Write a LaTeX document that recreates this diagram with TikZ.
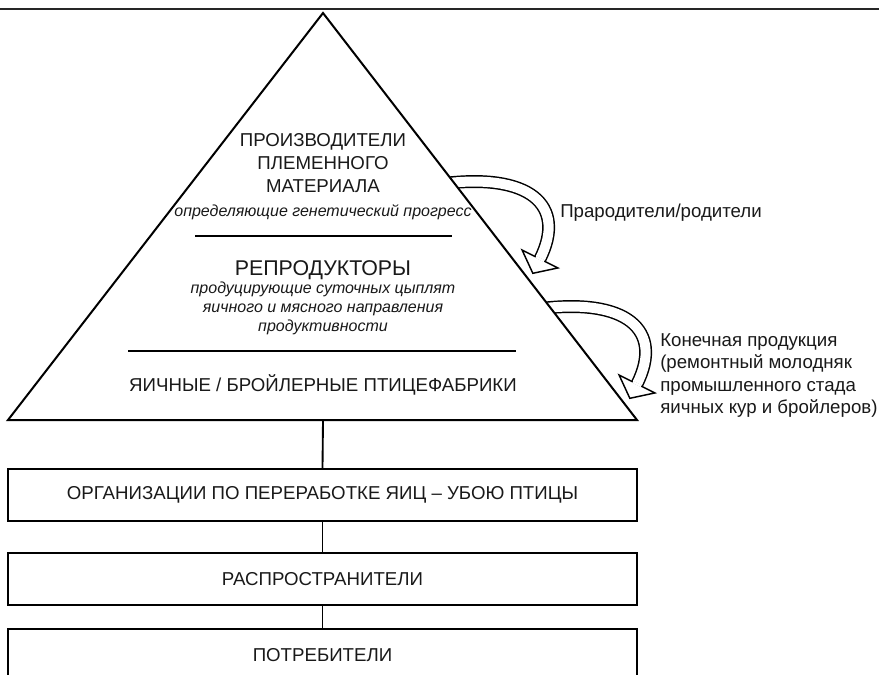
\documentclass[tikz,border=0pt]{standalone}
\usepackage{fontspec}
\setmainfont{Liberation Sans}
\usetikzlibrary{calc}
\tikzset{
  tri/.style={line width=1.5pt, line join=miter},
  sepline/.style={line width=1.8pt},
  topline/.style={line width=2pt, black!85},
  boxnode/.style={draw, line width=1.4pt, minimum width=471.75pt, minimum height=39pt, inner sep=0pt, text=black!90, font=\fontsize{14}{17}\selectfont},
  conn1/.style={line width=1.4pt},
  conn2/.style={line width=1pt},
  title/.style={align=center, text=black!90, inner sep=0pt, font=\fontsize{14}{17.25}\selectfont},
  bigtitle/.style={align=center, text=black!90, inner sep=0pt, font=\fontsize{16}{19}\selectfont},
  desc/.style={align=center, text=black!90, inner sep=0pt, font=\fontsize{12}{14.25}\selectfont\itshape},
  sidetext/.style={align=left, anchor=west, text=black!90, inner sep=0pt, font=\fontsize{14}{16.7}\selectfont},
  shaft/.style={line width=1.1pt, double=white, double distance=7.5pt},
  headst/.style={draw, fill=white, line width=1.1pt, line join=miter},
}
\begin{document}
\begin{tikzpicture}[x=0.75pt,y=-0.75pt]
\useasboundingbox (0,0) rectangle (879,675);
\clip (0,0) rectangle (879,675);
\fill[white] (0,0) rectangle (879,675);

% top rule
\coordinate (tl) at (0,9);
\coordinate (tr) at (879,9);
\draw[topline] (tl) -- (tr);

% pyramid corners
\coordinate (apex) at (323,13);
\coordinate (bl) at (8,420);
\coordinate (br) at (637,420);
\coordinate (pyrbase) at (323,420);

% curved hollow arrows (shafts clipped at the pyramid edge)
\coordinate (a1s) at (440,184);
\coordinate (a1c1) at (530,172);
\coordinate (a1c2) at (567,205);
\coordinate (a1e) at (540,259);
\coordinate (a2s) at (537,309);
\coordinate (a2c1) at (627,297);
\coordinate (a2c2) at (664,330);
\coordinate (a2e) at (637,384);
\begin{scope}
  \clip (apex) -- (br) -- (879,675) -- (879,0) -- (323,0) -- cycle;
  \draw[shaft] (a1s) .. controls (a1c1) and (a1c2) .. (a1e);
  \draw[shaft] (a2s) .. controls (a2c1) and (a2c2) .. (a2e);
\end{scope}
\draw[headst] ($(a1e)!15pt!90:(a1c2)$) -- ($(a1e)!-12pt!(a1c2)$) -- ($(a1e)!15pt!-90:(a1c2)$) -- cycle;
\draw[white, line width=1.6pt] ($(a1e)!3.5pt!90:(a1c2)$) -- ($(a1e)!3.5pt!-90:(a1c2)$);
\draw[headst] ($(a2e)!15pt!90:(a2c2)$) -- ($(a2e)!-12pt!(a2c2)$) -- ($(a2e)!15pt!-90:(a2c2)$) -- cycle;
\draw[white, line width=1.6pt] ($(a2e)!3.5pt!90:(a2c2)$) -- ($(a2e)!3.5pt!-90:(a2c2)$);

% pyramid
\draw[tri] (apex) -- (br) -- (bl) -- cycle;

% separators
\coordinate (s1a) at (195,236);
\coordinate (s1b) at (452,236);
\coordinate (s2a) at (128,351);
\coordinate (s2b) at (516,351);
\draw[sepline] (s1a) -- (s1b);
\draw[sepline] (s2a) -- (s2b);

% pyramid texts
\node[title] (breeders) at (323,163) {ПРОИЗВОДИТЕЛИ\\ПЛЕМЕННОГО\\МАТЕРИАЛА};
\node[desc] (progress) at (323,212) {определяющие генетический прогресс};
\node[bigtitle] (repro) at (323,270) {РЕПРОДУКТОРЫ};
\node[desc] (reprodesc) at (323,308) {продуцирующие суточных цыплят\\яичного и мясного направления\\продуктивности};
\node[title] (farms) at (323,385) {ЯИЧНЫЕ / БРОЙЛЕРНЫЕ ПТИЦЕФАБРИКИ};

% side texts
\node[sidetext] (gp) at (560,213) {Прародители/родители};
\node[sidetext] (final) at (660,375.5) {Конечная продукция\\(ремонтный молодняк\\промышленного стада\\яичных кур и бройлеров)};

% boxes
\node[boxnode] (proc) at (322.5,495) {ОРГАНИЗАЦИИ ПО ПЕРЕРАБОТКЕ ЯИЦ – УБОЮ ПТИЦЫ};
\node[boxnode] (dist) at (322.5,579) {РАСПРОСТРАНИТЕЛИ};
\node[boxnode] (cons) at (322.5,655) {ПОТРЕБИТЕЛИ};

% connectors
\draw[conn1] (pyrbase) -- (proc.north);
\draw[conn2] (proc.south) -- (dist.north);
\draw[conn2] (dist.south) -- (cons.north);
\end{tikzpicture}
\end{document}
